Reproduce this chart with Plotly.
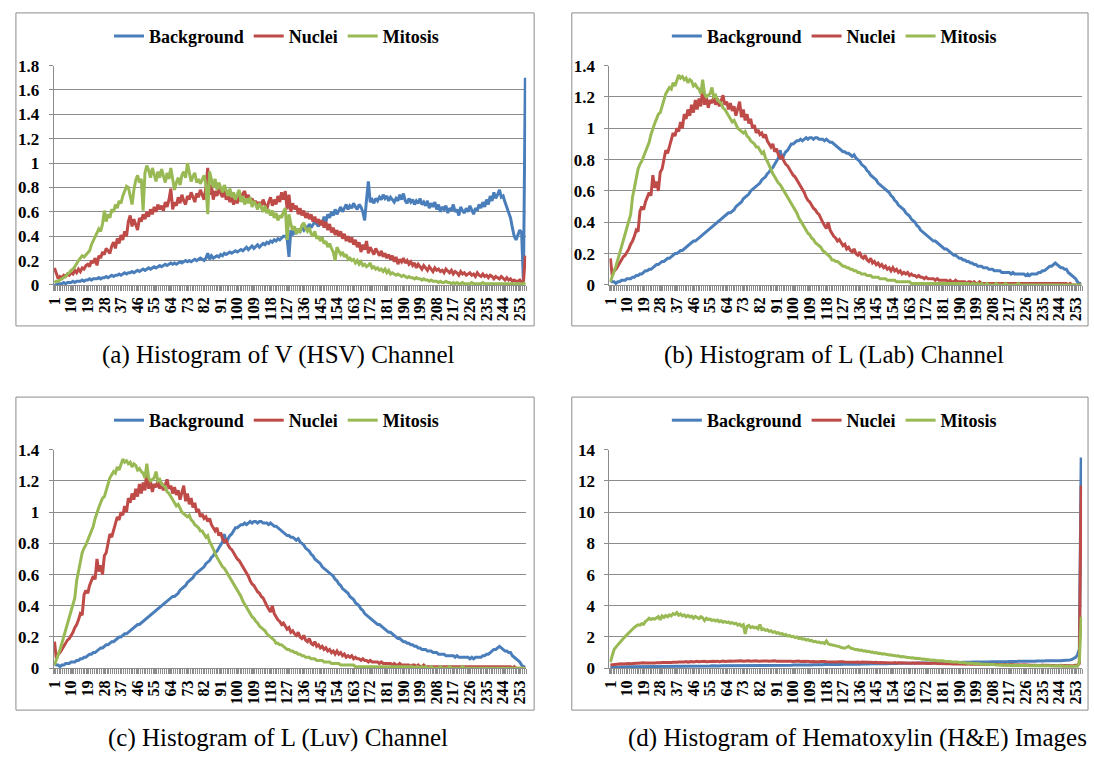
import plotly.graph_objects as go

# ---------------- data ----------------
bins = list(range(1, 257))
tick_vals = list(range(1, 254, 9))
tick_text = [str(v) for v in tick_vals]
series_names = ["Background", "Nuclei", "Mitosis"]
captions = [
    "(a) Histogram of V (HSV) Channel",
    "(b) Histogram of L (Lab) Channel",
    "(c) Histogram of L (Luv) Channel",
    "(d) Histogram of Hematoxylin (H&E) Images",
]
y_max = [1.8, 1.4, 1.4, 14]
y_step = [0.2, 0.2, 0.2, 2]

# (a) V (HSV)
a_bg = [
    0.01, 0.00, 0.01, 0.01, 0.01, 0.02, 0.01, 0.02, 0.02, 0.02, 0.03, 0.02, 0.03, 0.03, 0.03, 0.04,
    0.03, 0.04, 0.04, 0.05, 0.04, 0.05, 0.05, 0.05, 0.06, 0.05, 0.06, 0.06, 0.07, 0.06, 0.07, 0.08,
    0.07, 0.08, 0.08, 0.09, 0.08, 0.09, 0.10, 0.09, 0.10, 0.10, 0.11, 0.10, 0.11, 0.12, 0.11, 0.12,
    0.13, 0.12, 0.13, 0.14, 0.13, 0.14, 0.15, 0.14, 0.15, 0.16, 0.15, 0.16, 0.17, 0.16, 0.17, 0.18,
    0.17, 0.18, 0.17, 0.18, 0.19, 0.18, 0.19, 0.20, 0.19, 0.20, 0.19, 0.20, 0.21, 0.20, 0.21, 0.22,
    0.21, 0.20, 0.22, 0.26, 0.21, 0.24, 0.22, 0.23, 0.24, 0.23, 0.25, 0.24, 0.26, 0.25, 0.26, 0.27,
    0.26, 0.27, 0.28, 0.27, 0.28, 0.29, 0.28, 0.30, 0.31, 0.29, 0.31, 0.32, 0.30, 0.32, 0.33, 0.31,
    0.33, 0.34, 0.33, 0.35, 0.34, 0.36, 0.35, 0.37, 0.36, 0.38, 0.37, 0.39, 0.40, 0.40, 0.38, 0.23,
    0.45, 0.41, 0.44, 0.42, 0.46, 0.44, 0.47, 0.45, 0.48, 0.46, 0.50, 0.47, 0.49, 0.52, 0.50, 0.48,
    0.53, 0.50, 0.56, 0.52, 0.58, 0.55, 0.60, 0.57, 0.62, 0.58, 0.61, 0.64, 0.60, 0.63, 0.66, 0.62,
    0.65, 0.63, 0.67, 0.64, 0.62, 0.66, 0.64, 0.60, 0.53, 0.70, 0.85, 0.68, 0.70, 0.67, 0.71, 0.69,
    0.72, 0.70, 0.74, 0.71, 0.73, 0.69, 0.72, 0.70, 0.68, 0.71, 0.69, 0.74, 0.70, 0.75, 0.69, 0.67,
    0.71, 0.68, 0.70, 0.66, 0.69, 0.67, 0.71, 0.66, 0.68, 0.65, 0.69, 0.63, 0.67, 0.64, 0.68, 0.62,
    0.66, 0.60, 0.64, 0.62, 0.65, 0.59, 0.63, 0.61, 0.66, 0.60, 0.62, 0.57, 0.64, 0.61, 0.59, 0.63,
    0.60, 0.65, 0.62, 0.58, 0.63, 0.61, 0.66, 0.63, 0.68, 0.64, 0.70, 0.66, 0.73, 0.69, 0.76, 0.71,
    0.74, 0.78, 0.72, 0.73, 0.68, 0.64, 0.60, 0.55, 0.47, 0.40, 0.37, 0.41, 0.45, 0.43, 0.02, 1.70,
]
a_nu = [
    0.14, 0.10, 0.05, 0.07, 0.06, 0.08, 0.07, 0.09, 0.08, 0.10, 0.09, 0.12, 0.10, 0.13, 0.11, 0.14,
    0.13, 0.16, 0.17, 0.15, 0.20, 0.18, 0.22, 0.16, 0.24, 0.22, 0.27, 0.25, 0.30, 0.28, 0.26, 0.32,
    0.35, 0.30, 0.38, 0.34, 0.41, 0.37, 0.44, 0.40, 0.52, 0.57, 0.48, 0.54, 0.50, 0.45, 0.55, 0.52,
    0.58, 0.54, 0.60, 0.56, 0.62, 0.58, 0.64, 0.60, 0.66, 0.62, 0.65, 0.61, 0.68, 0.64, 0.70, 0.79,
    0.62, 0.68, 0.65, 0.72, 0.67, 0.74, 0.69, 0.66, 0.73, 0.70, 0.76, 0.71, 0.68, 0.75, 0.72, 0.78,
    0.74, 0.70, 0.80, 0.96, 0.74, 0.82, 0.70, 0.77, 0.73, 0.79, 0.75, 0.72, 0.78, 0.70, 0.74, 0.68,
    0.72, 0.66, 0.71, 0.67, 0.73, 0.69, 0.75, 0.77, 0.70, 0.74, 0.68, 0.71, 0.67, 0.69, 0.64, 0.68,
    0.65, 0.70, 0.66, 0.62, 0.68, 0.72, 0.65, 0.70, 0.66, 0.73, 0.68, 0.76, 0.70, 0.77, 0.62, 0.74,
    0.60, 0.67, 0.62, 0.65, 0.58, 0.63, 0.57, 0.61, 0.55, 0.59, 0.54, 0.58, 0.52, 0.56, 0.51, 0.54,
    0.49, 0.53, 0.47, 0.52, 0.45, 0.50, 0.43, 0.47, 0.41, 0.45, 0.40, 0.44, 0.38, 0.42, 0.36, 0.40,
    0.35, 0.39, 0.33, 0.37, 0.31, 0.35, 0.27, 0.33, 0.29, 0.36, 0.26, 0.31, 0.28, 0.25, 0.30, 0.27,
    0.24, 0.28, 0.23, 0.26, 0.22, 0.25, 0.21, 0.24, 0.19, 0.23, 0.17, 0.21, 0.19, 0.22, 0.18, 0.20,
    0.17, 0.19, 0.16, 0.18, 0.14, 0.17, 0.15, 0.13, 0.16, 0.14, 0.12, 0.15, 0.13, 0.11, 0.14, 0.12,
    0.13, 0.11, 0.12, 0.10, 0.13, 0.11, 0.10, 0.12, 0.09, 0.11, 0.10, 0.08, 0.11, 0.09, 0.10, 0.08,
    0.09, 0.10, 0.08, 0.09, 0.07, 0.10, 0.08, 0.07, 0.09, 0.07, 0.08, 0.06, 0.08, 0.07, 0.05, 0.07,
    0.06, 0.05, 0.07, 0.05, 0.04, 0.06, 0.04, 0.05, 0.03, 0.04, 0.03, 0.03, 0.04, 0.02, 0.02, 0.24,
]
a_mi = [
    0.02, 0.03, 0.03, 0.04, 0.05, 0.06, 0.07, 0.09, 0.10, 0.12, 0.13, 0.15, 0.18, 0.20, 0.22, 0.24,
    0.23, 0.25, 0.26, 0.28, 0.33, 0.36, 0.40, 0.42, 0.46, 0.44, 0.50, 0.61, 0.52, 0.58, 0.55, 0.62,
    0.60, 0.66, 0.63, 0.69, 0.67, 0.73, 0.77, 0.81, 0.80, 0.74, 0.66, 0.78, 0.86, 0.90, 0.84, 0.87,
    0.61, 0.92, 0.98, 0.94, 0.88, 0.96, 0.90, 0.85, 0.93, 0.88, 0.95, 0.90, 0.84, 0.92, 0.87, 0.96,
    0.85, 0.78, 0.84, 0.88, 0.82, 0.90, 0.93, 0.88, 1.00, 0.91, 0.85, 0.89, 0.92, 0.84, 0.87, 0.83,
    0.86, 0.90, 0.82, 0.58, 0.93, 0.85, 0.80, 0.87, 0.78, 0.84, 0.80, 0.76, 0.82, 0.77, 0.73, 0.79,
    0.72, 0.76, 0.70, 0.74, 0.78, 0.68, 0.73, 0.66, 0.71, 0.67, 0.72, 0.64, 0.69, 0.66, 0.62, 0.67,
    0.63, 0.60, 0.65, 0.59, 0.62, 0.57, 0.61, 0.55, 0.59, 0.53, 0.57, 0.55, 0.60, 0.63, 0.37, 0.58,
    0.50, 0.45, 0.48, 0.42, 0.46, 0.43, 0.49, 0.51, 0.46, 0.44, 0.47, 0.42, 0.40, 0.44, 0.38, 0.40,
    0.36, 0.39, 0.34, 0.36, 0.31, 0.34, 0.30, 0.27, 0.20, 0.31, 0.28, 0.25, 0.27, 0.23, 0.25, 0.21,
    0.22, 0.20, 0.21, 0.18, 0.20, 0.17, 0.19, 0.16, 0.17, 0.15, 0.16, 0.18, 0.14, 0.15, 0.13, 0.14,
    0.12, 0.13, 0.11, 0.13, 0.10, 0.12, 0.09, 0.10, 0.09, 0.08, 0.09, 0.08, 0.07, 0.08, 0.07, 0.06,
    0.07, 0.06, 0.06, 0.05, 0.06, 0.05, 0.05, 0.04, 0.05, 0.04, 0.04, 0.03, 0.04, 0.03, 0.03, 0.03,
    0.02, 0.03, 0.02, 0.02, 0.03, 0.02, 0.02, 0.01, 0.02, 0.01, 0.02, 0.01, 0.01, 0.02, 0.01, 0.01,
    0.01, 0.01, 0.02, 0.01, 0.01, 0.01, 0.01, 0.01, 0.02, 0.01, 0.01, 0.01, 0.01, 0.01, 0.01, 0.01,
    0.01, 0.01, 0.01, 0.01, 0.01, 0.01, 0.01, 0.01, 0.01, 0.01, 0.01, 0.01, 0.01, 0.01, 0.01, 0.02,
]

# (b) L (Lab)  -- (c) L (Luv) shows the same curves
b_bg = [
    0.03, 0.02, 0.02, 0.01, 0.02, 0.02, 0.03, 0.03, 0.03, 0.04, 0.04, 0.04, 0.05, 0.05, 0.06, 0.06,
    0.07, 0.07, 0.08, 0.09, 0.09, 0.10, 0.10, 0.11, 0.12, 0.13, 0.13, 0.14, 0.15, 0.15, 0.16, 0.17,
    0.17, 0.18, 0.19, 0.20, 0.20, 0.21, 0.22, 0.22, 0.23, 0.24, 0.25, 0.26, 0.27, 0.28, 0.28, 0.29,
    0.30, 0.31, 0.32, 0.33, 0.34, 0.35, 0.36, 0.37, 0.38, 0.39, 0.40, 0.41, 0.42, 0.43, 0.44, 0.45,
    0.46, 0.46, 0.47, 0.48, 0.50, 0.51, 0.52, 0.53, 0.55, 0.56, 0.57, 0.58, 0.60, 0.61, 0.62, 0.63,
    0.64, 0.65, 0.67, 0.68, 0.69, 0.71, 0.72, 0.74, 0.75, 0.77, 0.79, 0.81, 0.86, 0.80, 0.83, 0.85,
    0.86, 0.88, 0.90, 0.90, 0.91, 0.92, 0.92, 0.93, 0.92, 0.93, 0.94, 0.93, 0.94, 0.94, 0.93, 0.94,
    0.94, 0.93, 0.93, 0.93, 0.92, 0.93, 0.92, 0.91, 0.91, 0.90, 0.89, 0.88, 0.87, 0.86, 0.85, 0.85,
    0.84, 0.84, 0.83, 0.82, 0.83, 0.81, 0.80, 0.79, 0.77, 0.76, 0.75, 0.73, 0.72, 0.70, 0.69, 0.68,
    0.67, 0.65, 0.64, 0.63, 0.62, 0.61, 0.60, 0.59, 0.57, 0.56, 0.54, 0.53, 0.51, 0.50, 0.49, 0.48,
    0.46, 0.45, 0.44, 0.42, 0.41, 0.40, 0.38, 0.37, 0.35, 0.34, 0.33, 0.32, 0.31, 0.30, 0.29, 0.28,
    0.28, 0.27, 0.26, 0.25, 0.24, 0.23, 0.23, 0.22, 0.21, 0.20, 0.19, 0.19, 0.18, 0.17, 0.17, 0.16,
    0.16, 0.15, 0.15, 0.14, 0.14, 0.13, 0.13, 0.12, 0.12, 0.12, 0.11, 0.11, 0.11, 0.10, 0.10, 0.10,
    0.09, 0.09, 0.09, 0.09, 0.08, 0.08, 0.08, 0.08, 0.08, 0.07, 0.08, 0.07, 0.07, 0.07, 0.07, 0.07,
    0.07, 0.06, 0.07, 0.06, 0.07, 0.07, 0.07, 0.07, 0.08, 0.08, 0.09, 0.09, 0.10, 0.11, 0.12, 0.12,
    0.13, 0.14, 0.13, 0.12, 0.11, 0.11, 0.10, 0.10, 0.08, 0.07, 0.06, 0.05, 0.04, 0.02, 0.01, 0.01,
]
b_nu = [
    0.17, 0.06, 0.09, 0.10, 0.12, 0.14, 0.16, 0.18, 0.19, 0.21, 0.23, 0.26, 0.28, 0.31, 0.35, 0.34,
    0.47, 0.50, 0.48, 0.53, 0.56, 0.59, 0.57, 0.70, 0.62, 0.66, 0.60, 0.72, 0.74, 0.80, 0.86, 0.84,
    0.89, 0.92, 0.97, 0.95, 1.00, 0.98, 1.04, 1.00, 1.09, 1.06, 1.12, 1.08, 1.15, 1.10, 1.18, 1.12,
    1.19, 1.14, 1.26, 1.15, 1.20, 1.13, 1.18, 1.16, 1.20, 1.15, 1.19, 1.14, 1.18, 1.21, 1.15, 1.17,
    1.12, 1.16, 1.11, 1.14, 1.08, 1.13, 1.17, 1.07, 1.12, 1.05, 1.09, 1.03, 1.06, 1.00, 1.02, 0.97,
    0.99, 0.96, 0.97, 0.94, 0.96, 0.92, 0.90, 0.88, 0.90, 0.85, 0.87, 0.83, 0.81, 0.82, 0.79, 0.77,
    0.76, 0.74, 0.72, 0.70, 0.69, 0.67, 0.65, 0.63, 0.61, 0.59, 0.56, 0.54, 0.53, 0.51, 0.49, 0.48,
    0.46, 0.45, 0.42, 0.40, 0.38, 0.36, 0.40, 0.35, 0.33, 0.31, 0.30, 0.28, 0.29, 0.27, 0.25, 0.26,
    0.23, 0.24, 0.22, 0.21, 0.23, 0.20, 0.19, 0.21, 0.18, 0.17, 0.19, 0.16, 0.15, 0.17, 0.14, 0.15,
    0.13, 0.14, 0.12, 0.13, 0.11, 0.12, 0.10, 0.11, 0.09, 0.11, 0.09, 0.10, 0.08, 0.09, 0.07, 0.08,
    0.07, 0.08, 0.06, 0.07, 0.06, 0.06, 0.05, 0.06, 0.05, 0.05, 0.04, 0.05, 0.04, 0.04, 0.04, 0.04,
    0.03, 0.04, 0.03, 0.03, 0.03, 0.03, 0.03, 0.02, 0.03, 0.02, 0.02, 0.03, 0.02, 0.02, 0.02, 0.02,
    0.02, 0.01, 0.02, 0.02, 0.01, 0.02, 0.01, 0.01, 0.02, 0.01, 0.01, 0.01, 0.01, 0.01, 0.01, 0.01,
    0.01, 0.01, 0.01, 0.01, 0.01, 0.01, 0.01, 0.01, 0.01, 0.01, 0.01, 0.01, 0.01, 0.01, 0.01, 0.01,
    0.01, 0.01, 0.01, 0.01, 0.01, 0.01, 0.01, 0.01, 0.01, 0.01, 0.01, 0.01, 0.01, 0.01, 0.01, 0.01,
    0.01, 0.01, 0.01, 0.01, 0.01, 0.01, 0.01, 0.01, 0.00, 0.01, 0.00, 0.00, 0.00, 0.00, 0.00, 0.00,
]
b_mi = [
    0.02, 0.05, 0.08, 0.12, 0.16, 0.20, 0.25, 0.29, 0.32, 0.36, 0.40, 0.45, 0.56, 0.62, 0.70, 0.74,
    0.77, 0.79, 0.82, 0.85, 0.88, 0.91, 0.96, 1.00, 1.03, 1.06, 1.09, 1.10, 1.14, 1.18, 1.22, 1.24,
    1.26, 1.25, 1.29, 1.27, 1.31, 1.34, 1.32, 1.33, 1.31, 1.32, 1.29, 1.31, 1.30, 1.27, 1.28, 1.26,
    1.25, 1.22, 1.31, 1.22, 1.20, 1.21, 1.22, 1.26, 1.20, 1.21, 1.18, 1.17, 1.16, 1.13, 1.12, 1.10,
    1.08, 1.06, 1.04, 1.05, 1.02, 1.00, 0.99, 0.98, 0.97, 0.98, 0.95, 0.94, 0.92, 0.91, 0.90, 0.88,
    0.88, 0.86, 0.84, 0.85, 0.81, 0.79, 0.76, 0.73, 0.71, 0.69, 0.67, 0.65, 0.64, 0.62, 0.60, 0.58,
    0.56, 0.54, 0.52, 0.50, 0.48, 0.46, 0.43, 0.41, 0.39, 0.37, 0.35, 0.33, 0.32, 0.30, 0.29, 0.27,
    0.26, 0.25, 0.24, 0.22, 0.21, 0.20, 0.19, 0.18, 0.16, 0.16, 0.15, 0.15, 0.14, 0.13, 0.12, 0.12,
    0.11, 0.11, 0.10, 0.10, 0.09, 0.09, 0.08, 0.08, 0.07, 0.07, 0.07, 0.06, 0.06, 0.06, 0.05, 0.05,
    0.05, 0.05, 0.04, 0.04, 0.04, 0.04, 0.03, 0.03, 0.03, 0.03, 0.03, 0.02, 0.02, 0.02, 0.02, 0.02,
    0.02, 0.02, 0.02, 0.01, 0.01, 0.01, 0.01, 0.01, 0.01, 0.01, 0.01, 0.01, 0.01, 0.01, 0.01, 0.01,
    0.01, 0.01, 0.01, 0.01, 0.01, 0.01, 0.01, 0.01, 0.01, 0.01, 0.01, 0.01, 0.01, 0.01, 0.01, 0.01,
    0.01, 0.01, 0.01, 0.00, 0.01, 0.01, 0.00, 0.01, 0.00, 0.01, 0.00, 0.00, 0.01, 0.00, 0.00, 0.00,
    0.00, 0.01, 0.00, 0.00, 0.00, 0.00, 0.01, 0.00, 0.00, 0.00, 0.00, 0.00, 0.00, 0.01, 0.00, 0.00,
    0.00, 0.00, 0.00, 0.00, 0.00, 0.00, 0.00, 0.00, 0.00, 0.00, 0.00, 0.00, 0.00, 0.00, 0.00, 0.00,
    0.00, 0.00, 0.00, 0.00, 0.00, 0.00, 0.00, 0.00, 0.00, 0.00, 0.00, 0.00, 0.00, 0.00, 0.00, 0.00,
]
c_bg, c_nu, c_mi = b_bg, b_nu, b_mi

# (d) Hematoxylin (H&E)
d_bg = [
    0.05, 0.06, 0.07, 0.07, 0.08, 0.08, 0.09, 0.09, 0.09, 0.10, 0.10, 0.10, 0.10, 0.11, 0.10, 0.11,
    0.11, 0.11, 0.10, 0.11, 0.11, 0.12, 0.11, 0.11, 0.12, 0.11, 0.12, 0.12, 0.11, 0.12, 0.12, 0.12,
    0.12, 0.13, 0.12, 0.12, 0.13, 0.12, 0.13, 0.13, 0.12, 0.13, 0.13, 0.13, 0.14, 0.13, 0.13, 0.14,
    0.13, 0.14, 0.14, 0.13, 0.14, 0.14, 0.14, 0.15, 0.14, 0.14, 0.15, 0.14, 0.15, 0.15, 0.15, 0.15,
    0.15, 0.16, 0.15, 0.15, 0.16, 0.15, 0.16, 0.16, 0.16, 0.16, 0.17, 0.16, 0.16, 0.17, 0.16, 0.17,
    0.17, 0.17, 0.17, 0.18, 0.17, 0.17, 0.18, 0.17, 0.18, 0.18, 0.18, 0.18, 0.19, 0.18, 0.18, 0.19,
    0.19, 0.19, 0.19, 0.20, 0.19, 0.20, 0.20, 0.20, 0.20, 0.21, 0.20, 0.21, 0.21, 0.21, 0.22, 0.21,
    0.22, 0.22, 0.22, 0.22, 0.23, 0.22, 0.23, 0.23, 0.23, 0.24, 0.23, 0.24, 0.24, 0.24, 0.25, 0.24,
    0.25, 0.25, 0.25, 0.26, 0.25, 0.26, 0.26, 0.26, 0.27, 0.26, 0.27, 0.27, 0.27, 0.28, 0.27, 0.28,
    0.28, 0.28, 0.29, 0.28, 0.29, 0.29, 0.29, 0.30, 0.29, 0.30, 0.30, 0.30, 0.31, 0.30, 0.31, 0.31,
    0.31, 0.32, 0.31, 0.32, 0.32, 0.32, 0.33, 0.32, 0.33, 0.33, 0.33, 0.34, 0.33, 0.34, 0.34, 0.34,
    0.35, 0.34, 0.35, 0.35, 0.35, 0.36, 0.35, 0.36, 0.36, 0.36, 0.37, 0.36, 0.37, 0.37, 0.37, 0.38,
    0.37, 0.38, 0.38, 0.38, 0.39, 0.38, 0.39, 0.39, 0.39, 0.40, 0.39, 0.40, 0.40, 0.40, 0.41, 0.40,
    0.41, 0.41, 0.41, 0.42, 0.41, 0.42, 0.42, 0.42, 0.43, 0.42, 0.43, 0.43, 0.43, 0.44, 0.43, 0.44,
    0.44, 0.44, 0.45, 0.44, 0.45, 0.45, 0.45, 0.46, 0.45, 0.46, 0.46, 0.46, 0.47, 0.46, 0.47, 0.47,
    0.47, 0.48, 0.47, 0.48, 0.48, 0.49, 0.49, 0.50, 0.51, 0.53, 0.56, 0.61, 0.70, 0.86, 1.20, 13.50,
]
d_nu = [
    0.20, 0.22, 0.24, 0.25, 0.26, 0.27, 0.28, 0.27, 0.29, 0.28, 0.30, 0.29, 0.31, 0.30, 0.32, 0.31,
    0.33, 0.32, 0.34, 0.33, 0.35, 0.33, 0.34, 0.36, 0.34, 0.35, 0.37, 0.35, 0.36, 0.38, 0.36, 0.37,
    0.39, 0.37, 0.38, 0.40, 0.38, 0.39, 0.41, 0.39, 0.40, 0.42, 0.39, 0.41, 0.43, 0.40, 0.42, 0.44,
    0.41, 0.43, 0.41, 0.44, 0.42, 0.43, 0.45, 0.42, 0.44, 0.43, 0.45, 0.42, 0.44, 0.46, 0.43, 0.45,
    0.43, 0.46, 0.44, 0.45, 0.43, 0.46, 0.44, 0.47, 0.44, 0.46, 0.45, 0.47, 0.44, 0.46, 0.45, 0.47,
    0.45, 0.46, 0.44, 0.47, 0.45, 0.46, 0.44, 0.46, 0.45, 0.47, 0.44, 0.46, 0.45, 0.44, 0.46, 0.45,
    0.44, 0.46, 0.45, 0.43, 0.45, 0.44, 0.46, 0.43, 0.45, 0.44, 0.43, 0.45, 0.42, 0.44, 0.43, 0.42,
    0.44, 0.42, 0.43, 0.41, 0.43, 0.42, 0.41, 0.43, 0.40, 0.42, 0.41, 0.40, 0.42, 0.39, 0.41, 0.40,
    0.39, 0.41, 0.38, 0.40, 0.39, 0.38, 0.40, 0.37, 0.39, 0.38, 0.37, 0.39, 0.36, 0.38, 0.37, 0.36,
    0.38, 0.35, 0.37, 0.36, 0.35, 0.37, 0.34, 0.36, 0.35, 0.34, 0.36, 0.33, 0.35, 0.34, 0.33, 0.35,
    0.32, 0.34, 0.33, 0.32, 0.34, 0.31, 0.33, 0.32, 0.31, 0.33, 0.30, 0.32, 0.31, 0.30, 0.32, 0.29,
    0.31, 0.30, 0.29, 0.31, 0.28, 0.30, 0.29, 0.28, 0.30, 0.27, 0.29, 0.28, 0.27, 0.29, 0.26, 0.28,
    0.27, 0.26, 0.28, 0.25, 0.27, 0.26, 0.25, 0.27, 0.24, 0.26, 0.25, 0.24, 0.26, 0.23, 0.25, 0.24,
    0.23, 0.25, 0.22, 0.24, 0.23, 0.22, 0.24, 0.21, 0.23, 0.22, 0.21, 0.23, 0.20, 0.22, 0.21, 0.20,
    0.22, 0.19, 0.21, 0.20, 0.19, 0.21, 0.18, 0.20, 0.19, 0.18, 0.20, 0.17, 0.19, 0.18, 0.17, 0.19,
    0.16, 0.18, 0.17, 0.16, 0.18, 0.15, 0.17, 0.16, 0.15, 0.17, 0.16, 0.17, 0.18, 0.20, 0.30, 11.70,
]
d_mi = [
    0.40, 0.90, 1.20, 1.35, 1.50, 1.65, 1.78, 1.90, 2.02, 2.15, 2.28, 2.40, 2.50, 2.62, 2.70, 2.78,
    2.76, 2.85, 2.82, 3.00, 3.08, 3.20, 3.12, 3.18, 3.15, 3.22, 3.30, 3.10, 3.35, 3.25, 3.38, 3.30,
    3.42, 3.36, 3.50, 3.44, 3.56, 3.40, 3.48, 3.35, 3.42, 3.30, 3.38, 3.28, 3.34, 3.20, 3.32, 3.25,
    3.18, 3.30, 3.22, 3.05, 3.20, 3.12, 3.15, 3.06, 3.10, 3.02, 3.08, 2.98, 3.04, 2.95, 3.00, 2.92,
    2.96, 2.88, 2.92, 2.84, 2.88, 2.76, 2.82, 2.70, 2.78, 2.20, 2.68, 2.74, 2.60, 2.66, 2.58, 2.62,
    2.52, 2.80, 2.48, 2.52, 2.42, 2.46, 2.36, 2.40, 2.30, 2.34, 2.24, 2.28, 2.18, 2.22, 2.12, 2.16,
    2.06, 2.10, 2.02, 2.04, 1.96, 2.00, 1.90, 1.94, 1.86, 1.88, 1.80, 1.84, 1.76, 1.78, 1.70, 1.72,
    1.66, 1.68, 1.62, 1.64, 1.58, 1.75, 1.56, 1.52, 1.50, 1.46, 1.44, 1.40, 1.38, 1.33, 1.30, 1.28,
    1.34, 1.40, 1.30, 1.25, 1.22, 1.18, 1.20, 1.14, 1.16, 1.10, 1.12, 1.06, 1.08, 1.02, 1.04, 0.98,
    1.00, 0.95, 0.96, 0.91, 0.92, 0.88, 0.89, 0.84, 0.85, 0.81, 0.82, 0.78, 0.79, 0.74, 0.75, 0.71,
    0.72, 0.68, 0.69, 0.65, 0.66, 0.62, 0.64, 0.60, 0.61, 0.58, 0.59, 0.55, 0.56, 0.52, 0.53, 0.50,
    0.51, 0.48, 0.49, 0.46, 0.47, 0.44, 0.45, 0.42, 0.43, 0.40, 0.41, 0.38, 0.39, 0.36, 0.37, 0.34,
    0.35, 0.32, 0.33, 0.30, 0.31, 0.29, 0.30, 0.27, 0.28, 0.26, 0.27, 0.24, 0.25, 0.23, 0.24, 0.22,
    0.23, 0.21, 0.22, 0.20, 0.21, 0.19, 0.20, 0.19, 0.20, 0.18, 0.19, 0.18, 0.19, 0.17, 0.18, 0.17,
    0.18, 0.17, 0.18, 0.16, 0.17, 0.16, 0.17, 0.16, 0.17, 0.15, 0.16, 0.15, 0.16, 0.15, 0.16, 0.14,
    0.15, 0.14, 0.15, 0.14, 0.15, 0.13, 0.14, 0.13, 0.14, 0.13, 0.13, 0.12, 0.12, 0.12, 0.40, 3.30,
]

panel_data = [
    (a_bg, a_nu, a_mi),
    (b_bg, b_nu, b_mi),
    (c_bg, c_nu, c_mi),
    (d_bg, d_nu, d_mi),
]
for grp in panel_data:
    for s in grp:
        assert len(s) == len(bins), len(s)

# ---------------- style / layout ----------------
W, H = 1094, 764
colors = ["#4a7ebb", "#be4b48", "#98b954"]
FONT = "Liberation Serif, Times New Roman, serif"
GRID = "#8c8c8c"

# pixel geometry per panel: plot x0,x1, y_top,y_bot ; box x0,x1,y0,y1 ; legend cx,top ; caption cx,cy
geo = [
    dict(px=(46, 523), py=(58, 283), box=(8, 531, 4, 325), leg=(271, 9), cap=(273, 355)),
    dict(px=(607, 1084), py=(58, 283), box=(569, 1090, 4, 325), leg=(834, 9), cap=(834, 355)),
    dict(px=(46, 523), py=(452, 676), box=(8, 531, 398, 719), leg=(271, 403), cap=(272, 748)),
    dict(px=(607, 1084), py=(452, 676), box=(569, 1090, 398, 719), leg=(834, 403), cap=(857, 748)),
]

fig = go.Figure()
layout = dict(
    width=W, height=H,
    margin=dict(l=0, r=0, t=0, b=0),
    paper_bgcolor="white", plot_bgcolor="white",
    shapes=[], annotations=[],
)

for i, (g, grp) in enumerate(zip(geo, panel_data)):
    n = "" if i == 0 else str(i + 1)
    leg_id = "legend" + n
    for name, col, vals in zip(series_names, colors, grp):
        fig.add_trace(go.Scatter(
            x=bins, y=vals, mode="lines", name=name,
            line=dict(color=col, width=3),
            xaxis="x" + n, yaxis="y" + n, legend=leg_id,
            hoverinfo="skip",
        ))
    x0, x1 = g["px"]
    yt, yb = g["py"]
    layout["xaxis" + n] = dict(
        domain=[x0 / W, x1 / W], anchor="y" + n,
        range=[0.5, 256.5], tickmode="array", tickvals=tick_vals, ticktext=tick_text,
        tickangle=-90,
        tickfont=dict(family=FONT, size=16, color="black", weight="bold"),
        showline=True, linecolor=GRID, linewidth=1,
        ticks="outside", ticklen=5, tickcolor=GRID, tickwidth=1,
        minor=dict(tickmode="linear", tick0=0.5, dtick=1, ticks="outside",
                   ticklen=5, tickcolor=GRID, tickwidth=1, showgrid=False),
        showgrid=False, zeroline=False, fixedrange=True,
    )
    layout["yaxis" + n] = dict(
        domain=[1 - yb / H, 1 - yt / H], anchor="x" + n,
        range=[0, y_max[i]], tickmode="linear", tick0=0, dtick=y_step[i],
        tickfont=dict(family=FONT, size=17, color="black", weight="bold"),
        showgrid=True, gridcolor=GRID, gridwidth=1,
        showline=True, linecolor=GRID, linewidth=1,
        ticks="outside", ticklen=4, tickcolor=GRID,
        ticklabelstandoff=6,
        zeroline=False, fixedrange=True,
    )
    lx, ly = g["leg"]
    layout[leg_id] = dict(
        orientation="h", x=lx / W, xanchor="center", y=1 - ly / H, yanchor="top",
        font=dict(family=FONT, size=18, color="black", weight="bold"),
        bgcolor="rgba(0,0,0,0)", itemwidth=30, traceorder="normal",
    )
    bx0, bx1, by0, by1 = g["box"]
    layout["shapes"].append(dict(
        type="rect", xref="paper", yref="paper",
        x0=bx0 / W, x1=bx1 / W, y0=1 - by1 / H, y1=1 - by0 / H,
        line=dict(color=GRID, width=1), fillcolor="rgba(0,0,0,0)", layer="below",
    ))
    cx, cy = g["cap"]
    layout["annotations"].append(dict(
        text=captions[i], xref="paper", yref="paper",
        x=cx / W, y=1 - cy / H, xanchor="center", yanchor="middle",
        showarrow=False, font=dict(family=FONT, size=25, color="black"),
    ))

fig.update_layout(**layout)
fig.write_html(
    "out.html",
    config={"displayModeBar": False},
    post_script="document.body.style.margin='0px';document.body.style.overflow='hidden';",
)
